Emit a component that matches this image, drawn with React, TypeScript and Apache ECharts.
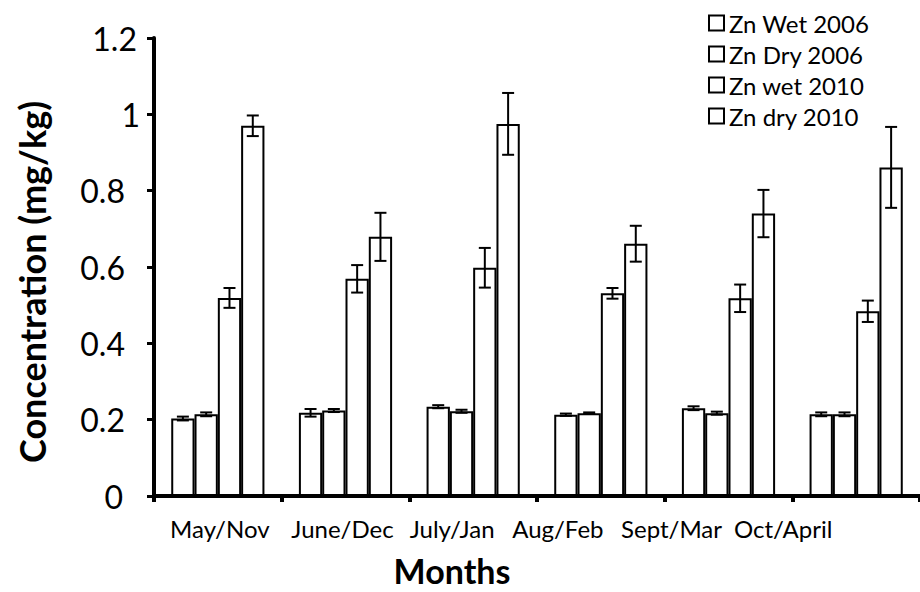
import React, { useEffect, useRef } from "react";
import * as echarts from "echarts";

const CATEGORIES = ["May/Nov", "June/Dec", "July/Jan", "Aug/Feb", "Sept/Mar", "Oct/April"];
const SERIES_NAMES = ["Zn Wet 2006", "Zn Dry 2006", "Zn wet 2010", "Zn dry 2010"];

const ZN_WET_2006 = [0.203, 0.218, 0.234, 0.213, 0.23, 0.214];
const ZN_DRY_2006 = [0.214, 0.224, 0.222, 0.217, 0.217, 0.214];
const ZN_WET_2010 = [0.519, 0.569, 0.598, 0.531, 0.518, 0.484];
const ZN_DRY_2010 = [0.97, 0.679, 0.975, 0.661, 0.74, 0.861];

const ZN_WET_2006_ERR = [0.005, 0.01, 0.004, 0.003, 0.005, 0.005];
const ZN_DRY_2006_ERR = [0.005, 0.004, 0.004, 0.002, 0.004, 0.005];
const ZN_WET_2010_ERR = [0.026, 0.036, 0.052, 0.014, 0.036, 0.028];
const ZN_DRY_2010_ERR = [0.027, 0.063, 0.081, 0.047, 0.062, 0.106];

const Y_MIN = 0;
const Y_MAX = 1.2;
const Y_STEP = 0.2;

const VALUES = [ZN_WET_2006, ZN_DRY_2006, ZN_WET_2010, ZN_DRY_2010];
const ERRORS = [ZN_WET_2006_ERR, ZN_DRY_2006_ERR, ZN_WET_2010_ERR, ZN_DRY_2010_ERR];

// label horizontal shift (px) relative to the category centre, as in the picture
const LABEL_SHIFT = [2, -3, -21, -43, -57, -73];

const FONT = "Lato";
const CAT_GAP = 0.27;

export default function App() {
  const ref = useRef<HTMLDivElement>(null);

  useEffect(() => {
    if (!ref.current) return;
    const chart = echarts.init(ref.current, undefined, { renderer: "svg" });

    const rich: Record<string, any> = {};
    LABEL_SHIFT.forEach((s, i) => {
      rich["l" + i] = {
        fontFamily: FONT,
        fontSize: 24,
        color: "#000",
        padding: s >= 0 ? [0, 0, 0, 2 * s] : [0, -2 * s, 0, 0],
      };
    });

    const yFont = { fontFamily: FONT, fontSize: 32, color: "#000" };
    const yRich = {
      a: { ...yFont, padding: [0, 15, 0, 0] },
      z: { ...yFont, padding: [0, 17, 0, 0] },
      b: { ...yFont, padding: [0, 0, 0, 0] },
      c: { ...yFont, padding: [0, 3, 0, 0] },
    };

    const barSeries = SERIES_NAMES.map((name, si) => ({
      name,
      type: "bar",
      data: VALUES[si],
      barGap: "0%",
      barCategoryGap: CAT_GAP * 100 + "%",
      itemStyle: { color: "#ffffff", borderColor: "#000000", borderWidth: 2 },
      emphasis: { disabled: true },
    }));

    const errData: number[][] = [];
    VALUES.forEach((vals, si) => {
      vals.forEach((v, ci) => {
        errData.push([ci, v, ERRORS[si][ci], si]);
      });
    });

    const errorSeries = {
      name: "error",
      type: "custom",
      z: 5,
      data: errData,
      encode: { x: 0, y: 1 },
      renderItem: (params: any, api: any) => {
        const ci = api.value(0);
        const v = api.value(1);
        const e = api.value(2);
        const si = api.value(3);
        const band = api.size([1, 0])[0];
        const bw = (band * (1 - CAT_GAP)) / 4;
        const x = api.coord([ci, v])[0] + (si - 1.5) * bw;
        const yTop = api.coord([ci, v + e])[1];
        const yBot = api.coord([ci, v - e])[1];
        const half = 6;
        const style = { stroke: "#000", lineWidth: 2 };
        return {
          type: "group",
          children: [
            { type: "line", shape: { x1: x, y1: yTop, x2: x, y2: yBot }, style },
            { type: "line", shape: { x1: x - half, y1: yTop, x2: x + half, y2: yTop }, style },
            { type: "line", shape: { x1: x - half, y1: yBot, x2: x + half, y2: yBot }, style },
          ],
        };
      },
    };

    chart.setOption({
      animation: false,
      backgroundColor: "#ffffff",
      grid: { left: 154, right: -11, top: 38, bottom: 95, containLabel: false },
      legend: {
        data: SERIES_NAMES,
        orient: "vertical",
        left: 708,
        top: 10,
        padding: 0,
        itemWidth: 15,
        itemHeight: 15,
        itemGap: 5,
        icon: "rect",
        itemStyle: { color: "#ffffff", borderColor: "#000000", borderWidth: 2 },
        textStyle: { fontFamily: FONT, fontSize: 24, color: "#000", lineHeight: 26 },
        selectedMode: false,
      },
      xAxis: {
        type: "category",
        data: CATEGORIES,
        boundaryGap: true,
        name: "Months",
        nameLocation: "middle",
        nameGap: 57,
        nameTextStyle: {
          fontFamily: FONT,
          fontSize: 34,
          fontWeight: "bold",
          color: "#000",
          padding: [0, 170, 0, 0],
        },
        axisLine: { show: true, lineStyle: { color: "#000", width: 4 } },
        axisTick: { show: true, inside: false, length: 6, lineStyle: { color: "#000", width: 4 } },
        axisLabel: {
          interval: 0,
          margin: 20,
          formatter: (value: string, index: number) => `{l${index}|${value}}`,
          rich,
        },
        splitLine: { show: false },
      },
      yAxis: {
        type: "value",
        min: Y_MIN,
        max: Y_MAX,
        interval: Y_STEP,
        name: "Concentration (mg/kg)",
        nameLocation: "middle",
        nameGap: 104,
        nameTextStyle: {
          fontFamily: FONT,
          fontSize: 36,
          fontWeight: "bold",
          color: "#000",
          padding: [0, 30, 0, 0],
        },
        axisLine: { show: true, lineStyle: { color: "#000", width: 4 } },
        axisTick: { show: true, inside: false, length: 7, lineStyle: { color: "#000", width: 3 } },
        axisLabel: {
          margin: 14,
          formatter: (value: number) => {
            const t = String(Math.round(value * 10) / 10);
            if (value === 0) return `{z|${t}}`;
            if (value === 1) return `{b|${t}}`;
            if (value > 1) return `{c|${t}}`;
            return `{a|${t}}`;
          },
          rich: yRich,
        },
        splitLine: { show: false },
      },
      series: [...barSeries, errorSeries],
    });

    return () => chart.dispose();
  }, []);

  return (
    <div
      ref={ref}
      style={{ position: "fixed", left: 0, top: 0, width: 920, height: 592, background: "#fff" }}
    />
  );
}
